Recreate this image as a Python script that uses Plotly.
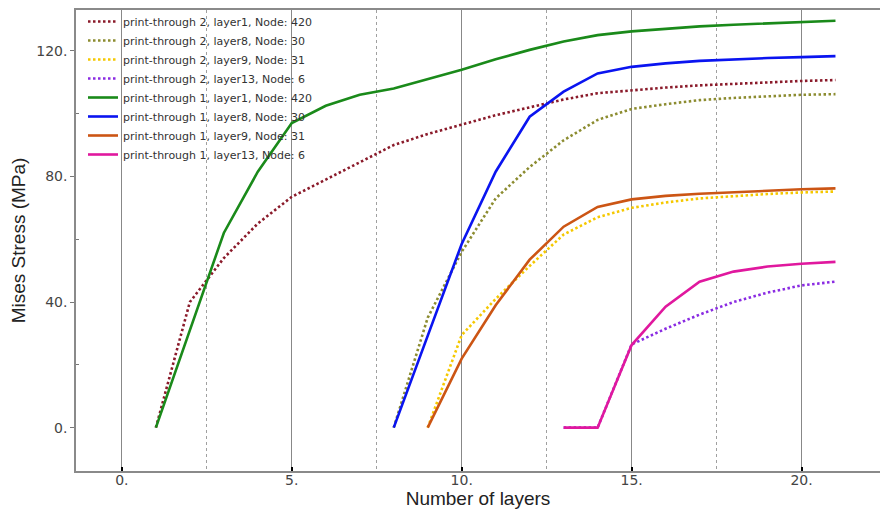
import plotly.graph_objects as go

# ---- data ----
x_l1 = list(range(1, 22))
pt2_l1 = [0, 40, 54, 65, 73.5, 79, 84.5, 90, 93.5, 96.5, 99.5, 102, 104.5, 106.5,
          107.5, 108.3, 109, 109.5, 110, 110.4, 110.7]
pt1_l1 = [0, 31, 62, 81.5, 97, 102.5, 106, 108, 111, 114, 117.3, 120.3, 123, 125,
          126.2, 127, 127.8, 128.3, 128.8, 129.2, 129.6]

x_l8 = list(range(8, 22))
pt2_l8 = [0, 35, 56, 73, 83, 91.5, 98, 101.5, 103, 104.3, 105, 105.6, 106, 106.2]
pt1_l8 = [0, 29, 58.5, 81.5, 99, 107, 112.8, 114.9, 116, 116.8, 117.3, 117.7, 118, 118.3]

x_l9 = list(range(9, 22))
pt2_l9 = [0, 29.5, 41, 51.5, 61.5, 67, 70, 71.7, 73, 73.8, 74.4, 74.9, 75.2]
pt1_l9 = [0, 22, 39, 53.5, 64, 70.3, 72.7, 73.8, 74.5, 75, 75.5, 75.9, 76.2]

x_l13 = list(range(13, 22))
pt2_l13 = [0, 0, 26.5, 31.5, 36, 40, 43, 45.3, 46.5]
pt1_l13 = [0, 0, 26.3, 38.5, 46.5, 49.7, 51.3, 52.2, 52.8]

names = [
    "print-through 2, layer1, Node: 420",
    "print-through 2, layer8, Node: 30",
    "print-through 2, layer9, Node: 31",
    "print-through 2, layer13, Node: 6",
    "print-through 1, layer1, Node: 420",
    "print-through 1, layer8, Node: 30",
    "print-through 1, layer9, Node: 31",
    "print-through 1, layer13, Node: 6",
]
xs = [x_l1, x_l8, x_l9, x_l13, x_l1, x_l8, x_l9, x_l13]
ys = [pt2_l1, pt2_l8, pt2_l9, pt2_l13, pt1_l1, pt1_l8, pt1_l9, pt1_l13]
colors = ["#8a1a2a", "#8c8c30", "#f5c800", "#8a2be2",
          "#1a8a1a", "#0a14f0", "#cc5514", "#e0189e"]
dashes = ["2.5px,2.5px"] * 4 + ["solid"] * 4

x_major = [0, 5, 10, 15, 20]
x_major_text = ["0.", "5.", "10.", "15.", "20."]
x_minor = [2.5, 7.5, 12.5, 17.5]
y_major = [0, 40, 80, 120]
y_major_text = ["0.", "40.", "80.", "120."]
y_minor = [20, 60, 100]

fig = go.Figure()
for x, y, n, c, d in zip(xs, ys, names, colors, dashes):
    fig.add_trace(go.Scatter(x=x, y=y, name=n, mode="lines",
                             line=dict(color=c, width=2.6, dash=d)))

W, H = 880, 513
ml, mr, mt, mb = 76, 0, 10, 42
fig.update_layout(
    width=W, height=H,
    margin=dict(l=ml, r=mr, t=mt, b=mb),
    paper_bgcolor="white", plot_bgcolor="white",
    font=dict(family="DejaVu Sans", color="#444"),
    showlegend=True,
    legend=dict(
        x=(83 - ml) / (W - ml - mr), y=1 + 3 / 461, xanchor="left", yanchor="top",
        bgcolor="rgba(0,0,0,0)", borderwidth=0,
        font=dict(family="DejaVu Sans", size=11, color="#333"),
        tracegroupgap=0, itemwidth=30,
    ),
    xaxis=dict(
        range=[-1.35, 22.31], tickmode="array", tickvals=x_major, ticktext=x_major_text,
        ticks="inside", ticklen=4, tickcolor="black", tickwidth=1.5,
        ticklabelstandoff=-5,
        showgrid=True, gridcolor="#888888", gridwidth=1.2,
        minor=dict(tickmode="array", tickvals=x_minor, showgrid=True,
                   gridcolor="#a0a0a0", griddash="dot", gridwidth=1.2, ticks=""),
        showline=True, linecolor="#8a8a8a", linewidth=1.5, mirror=True,
        zeroline=False,
        tickfont=dict(family="DejaVu Sans", size=14, color="#444"),
        title=dict(text="Number of layers", standoff=0,
                   font=dict(family="Liberation Sans", size=19, color="#222")),
    ),
    yaxis=dict(
        range=[-13.8, 133], tickmode="array", tickvals=y_major, ticktext=y_major_text,
        ticks="outside", ticklen=4, tickcolor="#777", tickwidth=1,
        minor=dict(tickmode="array", tickvals=y_minor, ticks="inside", ticklen=3,
                   tickcolor="#777", showgrid=False),
        showgrid=False, zeroline=False,
        showline=True, linecolor="#8a8a8a", linewidth=1.5, mirror=False,
        tickfont=dict(family="DejaVu Sans", size=14, color="#444"),
        title=dict(text="Mises Stress (MPa)", standoff=6,
                   font=dict(family="Liberation Sans", size=19, color="#222")),
    ),
)

fig.write_html("out.html")
